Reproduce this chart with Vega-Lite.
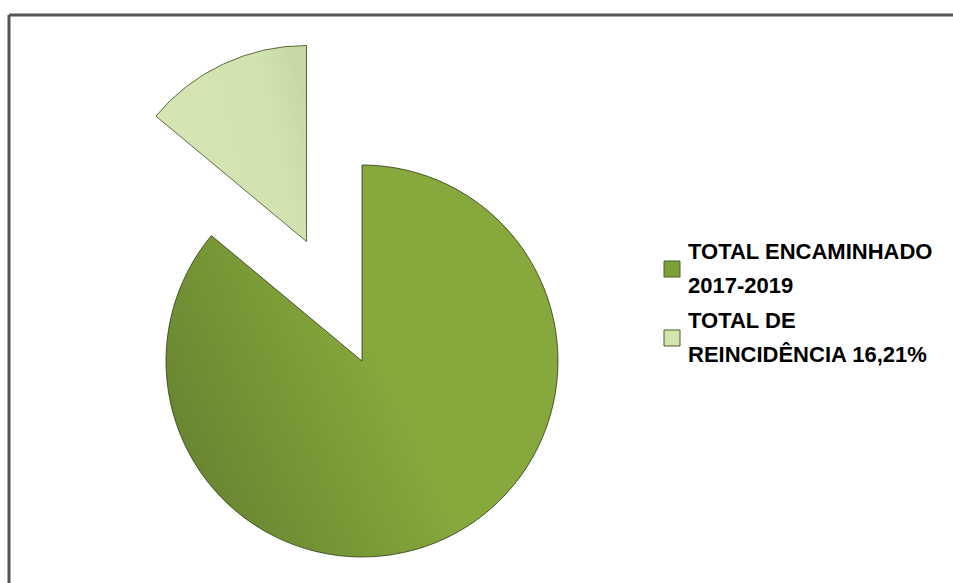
{
  "$schema": "https://vega.github.io/schema/vega-lite/v6.json",
  "autosize": {"type": "none"},
  "padding": {"left": 9, "top": 15, "right": 0, "bottom": 0},
  "width": 944,
  "height": 568,
  "background": "white",
  "config": {
    "view": {"stroke": "#555555", "strokeWidth": 3, "strokeDash": [944, 1512, 568, 0]},
    "style": {
      "guide-label": {"lineHeight": 34, "dy": -17}
    },
    "font": "Liberation Sans"
  },
  "data": {
    "values": [
      {"category": "TOTAL ENCAMINHADO 2017-2019", "value": 100},
      {"category": "TOTAL DE REINCIDÊNCIA 16,21%", "value": 16.21}
    ]
  },
  "transform": [
    {"stack": "value", "groupby": [], "as": ["v0", "v1"], "sort": [{"field": "category", "order": "descending"}]}
  ],
  "layer": [
    {
      "mark": {"type": "point", "opacity": 0, "size": 0},
      "encoding": {
        "x": {"field": "value", "type": "quantitative", "axis": null, "scale": {"domain": [0, 1000]}},
        "y": {"field": "value", "type": "quantitative", "axis": null, "scale": {"domain": [0, 1000]}}
      }
    },
    {
      "transform": [{"filter": "datum.category == 'TOTAL ENCAMINHADO 2017-2019'"}],
      "mark": {
        "type": "arc",
        "x": 353,
        "y": 346,
        "outerRadius": 196,
        "stroke": "#2f3a17",
        "strokeWidth": 0.8,
        "fill": {
          "gradient": "linear",
          "x1": 0, "y1": 0.75, "x2": 0.55, "y2": 0.5,
          "stops": [
            {"offset": 0, "color": "#66832f"},
            {"offset": 1, "color": "#86a83c"}
          ]
        }
      },
      "encoding": {
        "theta": {"field": "v0", "type": "quantitative", "scale": {"domain": [0, 116.21]}},
        "theta2": {"field": "v1"}
      }
    },
    {
      "transform": [{"filter": "datum.category == 'TOTAL DE REINCIDÊNCIA 16,21%'"}],
      "mark": {
        "type": "arc",
        "x": 297.5,
        "y": 226.5,
        "outerRadius": 196,
        "stroke": "#3a4a1c",
        "strokeWidth": 0.8,
        "fill": {
          "gradient": "linear",
          "x1": 0, "y1": 0.6, "x2": 1, "y2": 0.3,
          "stops": [
            {"offset": 0, "color": "#d5e6b4"},
            {"offset": 0.75, "color": "#d2e3af"},
            {"offset": 1, "color": "#c6d9a3"}
          ]
        }
      },
      "encoding": {
        "theta": {"field": "v0", "type": "quantitative", "scale": {"domain": [0, 116.21]}},
        "theta2": {"field": "v1"}
      }
    },
    {
      "mark": {"type": "arc", "opacity": 0, "x": 353, "y": 346, "outerRadius": 196},
      "encoding": {
        "theta": {"field": "v0", "type": "quantitative", "scale": {"domain": [0, 116.21]}},
        "theta2": {"field": "v1"},
        "color": {
          "field": "category",
          "type": "nominal",
          "scale": {
            "domain": ["TOTAL ENCAMINHADO 2017-2019", "TOTAL DE REINCIDÊNCIA 16,21%"],
            "range": ["#7e9f38", "#d3e4b1"]
          },
          "legend": {
            "title": null,
            "orient": "none",
            "legendX": 652,
            "legendY": 243,
            "padding": 0,
            "symbolType": "square",
            "symbolSize": 256,
            "symbolOpacity": 1,
            "symbolStrokeColor": "#4a5e22",
            "symbolStrokeWidth": 1,
            "labelFont": "Liberation Sans",
            "labelFontSize": 22,
            "labelFontWeight": "bold",
            "labelColor": "#000000",
            "labelOffset": 5,
            "labelLimit": 400,
            "rowPadding": 13,
            "labelExpr": "datum.label == 'TOTAL ENCAMINHADO 2017-2019' ? ['TOTAL ENCAMINHADO', '2017-2019'] : ['TOTAL DE', 'REINCIDÊNCIA 16,21%']"
          }
        }
      }
    }
  ]
}
